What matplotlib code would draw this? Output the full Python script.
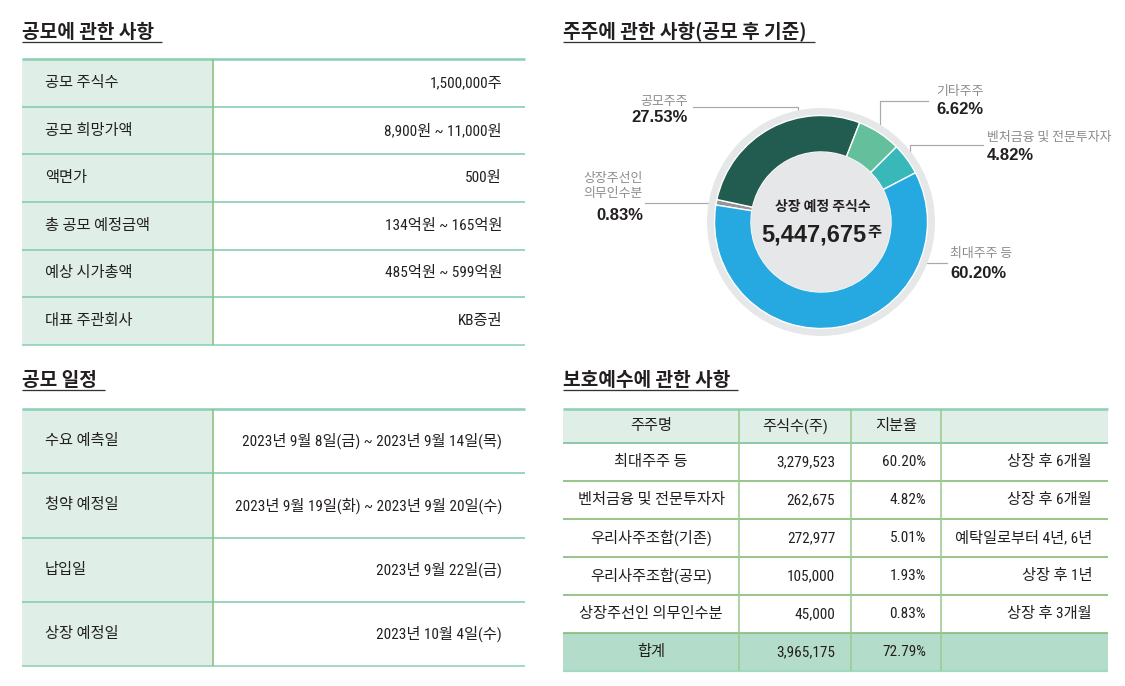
import matplotlib
matplotlib.use('Agg')
import matplotlib.pyplot as plt
from matplotlib import font_manager
from matplotlib.patches import Rectangle, Circle

# 공모에 관한 사항
offer_items = ['공모 주식수', '공모 희망가액', '액면가', '총 공모 예정금액', '예상 시가총액', '대표 주관회사']
offer_values = ['1,500,000주', '8,900원 ~ 11,000원', '500원', '134억원 ~ 165억원', '485억원 ~ 599억원', 'KB증권']

# 공모 일정
schedule_items = ['수요 예측일', '청약 예정일', '납입일', '상장 예정일']
schedule_values = ['2023년 9월 8일(금) ~ 2023년 9월 14일(목)',
                   '2023년 9월 19일(화) ~ 2023년 9월 20일(수)',
                   '2023년 9월 22일(금)',
                   '2023년 10월 4일(수)']

# 주주에 관한 사항 (공모 후 기준) - 시계방향 순서
holder_labels = ['상장주선인\n의무인수분', '공모주주', '기타주주', '벤처금융 및 전문투자자', '최대주주 등']
holder_pcts = [0.83, 27.53, 6.62, 4.82, 60.20]
holder_colors = ['#939598', '#225B50', '#63BF9C', '#38B8B8', '#25A9E0']
listed_shares = 5447675

# 보호예수에 관한 사항
lock_header = ['주주명', '주식수(주)', '지분율', '']
lock_names = ['최대주주 등', '벤처금융 및 전문투자자', '우리사주조합(기존)', '우리사주조합(공모)', '상장주선인 의무인수분']
lock_shares = [3279523, 262675, 272977, 105000, 45000]
lock_ratios = [60.20, 4.82, 5.01, 1.93, 0.83]
lock_periods = ['상장 후 6개월', '상장 후 6개월', '예탁일로부터 4년, 6년', '상장 후 1년', '상장 후 3개월']

# fonts - look for a condensed latin face for the digits in the tables
KR = 'Noto Sans CJK KR'
fonts = font_manager.fontManager.ttflist
names = {f.name for f in fonts}
STRETCH = 'normal'
NARROW = 'Liberation Sans'
for cand in ['Liberation Sans Narrow', 'Roboto Condensed', 'Open Sans Condensed', 'DejaVu Sans Condensed']:
    if cand in names:
        NARROW = cand
        break
else:
    for f in fonts:
        if f.name in ('DejaVu Sans', 'Roboto', 'Open Sans') and str(f.stretch) in ('condensed', 'semi-condensed', '87.5', '75'):
            NARROW, STRETCH = f.name, f.stretch
            break
TBL = [NARROW, KR]
SANS = ['Liberation Sans', KR]
INK = '#231F20'
PX = 0.72  # 1 pixel in points at dpi 100
TFS = 11

W, H = 1125, 686
fig = plt.figure(figsize=(W / 100, H / 100), dpi=100)
ax = fig.add_axes([0, 0, 1, 1])
ax.set_xlim(0, W)
ax.set_ylim(H, 0)
ax.axis('off')
renderer = fig.canvas.get_renderer()


def ttext(x, y, s, ha):
    ax.text(x, y, s, fontsize=TFS, family=TBL, fontstretch=STRETCH, color=INK,
            ha=ha, va='center')


def title(x, y, s):
    t = ax.text(x, y, s, fontsize=13.8, fontweight='bold', family=KR, color=INK,
                ha='left', va='center')
    bb = t.get_window_extent(renderer)
    ax.plot([x, bb.x1 + 8], [y + 10, y + 10], color='#333333', lw=1.3 * PX,
            solid_capstyle='butt')


def hline(x0, x1, y, color, lw):
    ax.plot([x0, x1], [y, y], color=color, lw=lw * PX, solid_capstyle='butt')


def vline(x, y0, y1, color, lw):
    ax.plot([x, x], [y0, y1], color=color, lw=lw * PX, solid_capstyle='butt')


def two_col_table(top, bottom, items, values, left=22, split=213, right=525):
    n = len(items)
    row_h = (bottom - top) / n
    ax.add_patch(Rectangle((left, top), split - left, bottom - top, fc='#DFEEE7', ec='none'))
    for i, (a, b) in enumerate(zip(items, values)):
        yc = top + (i + 0.5) * row_h
        ttext(45, yc, a, 'left')
        ttext(502, yc, b, 'right')
    for i in range(n + 1):
        y = top + i * row_h
        hline(left, right, y, '#8ED0B5' if i in (0, n) else '#86CBAE', 2.6 if i == 0 else 1.6)
    vline(split, top, bottom, '#8CBF7E', 1.6)


# ---- 공모에 관한 사항 ----
title(22, 32, '공모에 관한 사항')
two_col_table(59, 345, offer_items, offer_values)

# ---- 공모 일정 ----
title(22, 380, '공모 일정')
two_col_table(409, 666, schedule_items, schedule_values)

# ---- 주주에 관한 사항 (donut) ----
title(563, 32, '주주에 관한 사항(공모 후 기준)')

cx, cy, half = 821, 222, 120
dax = fig.add_axes([(cx - half) / W, (H - cy - half) / H, 2 * half / W, 2 * half / H])
dax.add_patch(Circle((0, 0), 114, fc='#E6E7E8', ec='none'))
dax.pie(holder_pcts, colors=holder_colors, startangle=170.8, counterclock=False,
        radius=106.5, wedgeprops=dict(width=36.5, edgecolor='white', linewidth=1.0))
dax.add_patch(Circle((0, 0), 70, fc='#E6E7E8', ec='none'))
dax.set_xlim(-half, half)
dax.set_ylim(-half, half)
dax.set_aspect('equal')
dax.axis('off')

dax.text(2, 15, '상장 예정 주식수', fontsize=10, fontweight='bold', family=KR,
         color=INK, ha='center', va='center')
dax.text(45, -13, f'{listed_shares:,}', fontsize=17, fontweight='bold', family=SANS,
         color=INK, ha='right', va='center')
dax.text(46, -10, '주', fontsize=11, fontweight='bold', family=KR,
         color=INK, ha='left', va='center')

# labels around the donut: (anchor x, ha, label y, pct y, leader path)
label_layout = [
    (643, 'right', 186, 216, [(645, 203), (716, 203)]),
    (688, 'right', 101, 118, [(693, 107), (798, 107), (798, 116)]),
    (936, 'left', 92, 110, [(928, 101), (880, 101), (880, 128)]),
    (987, 'left', 137, 155, [(983, 145), (910, 145), (910, 160)]),
    (950, 'left', 254, 273, [(947, 263), (920, 263)]),
]
for lab, pct, (lx, ha, ly, py, path) in zip(holder_labels, holder_pcts, label_layout):
    ax.text(lx, ly, lab, fontsize=9.3, family=KR, color='#8A8C8E', ha=ha, va='center',
            multialignment=ha, linespacing=1.25)
    ax.text(lx, py, f'{pct:.2f}%', fontsize=12, fontweight='bold', family=SANS,
            color=INK, ha=ha, va='center')
    xs, ys = zip(*path)
    ax.plot(xs, ys, color='#A7A9AC', lw=1.2 * PX)

# ---- 보호예수에 관한 사항 ----
title(563, 380, '보호예수에 관한 사항')

cols = [563, 739, 851, 941, 1108]
top, head_h, row_h = 409, 34, 38
n = len(lock_names)
bottom = top + head_h + (n + 1) * row_h
ax.add_patch(Rectangle((cols[0], top), cols[-1] - cols[0], head_h, fc='#DFEEE7', ec='none'))
tot_top = top + head_h + n * row_h
ax.add_patch(Rectangle((cols[0], tot_top), cols[-1] - cols[0], row_h, fc='#B3DCCB', ec='none'))

for j, h in enumerate(lock_header):
    ttext((cols[j] + cols[j + 1]) / 2, top + head_h / 2, h, 'center')

rows = [(nm, f'{s:,}', f'{r:.2f}%', p) for nm, s, r, p in
        zip(lock_names, lock_shares, lock_ratios, lock_periods)]
rows.append(('합계', f'{sum(lock_shares):,}', f'{sum(lock_ratios):.2f}%', ''))
for i, (nm, s, r, p) in enumerate(rows):
    yc = top + head_h + (i + 0.5) * row_h
    ttext((cols[0] + cols[1]) / 2, yc, nm, 'center')
    ttext(cols[2] - 16, yc, s, 'right')
    ttext(cols[3] - 15, yc, r, 'right')
    ttext(cols[4] - 16, yc, p, 'right')

hline(cols[0], cols[-1], top, '#8ED0B5', 2.6)
hline(cols[0], cols[-1], top + head_h, '#86C3A0', 1.8)
for i in range(1, n + 1):
    hline(cols[0], cols[-1], top + head_h + i * row_h, '#82B972', 1.6)
hline(cols[0], cols[-1], bottom, '#A3D7C4', 2.2)
for x in cols[1:-1]:
    vline(x, top, bottom, '#9CCB8D', 1.6)

fig.savefig('out.png', dpi=100, facecolor='white')
